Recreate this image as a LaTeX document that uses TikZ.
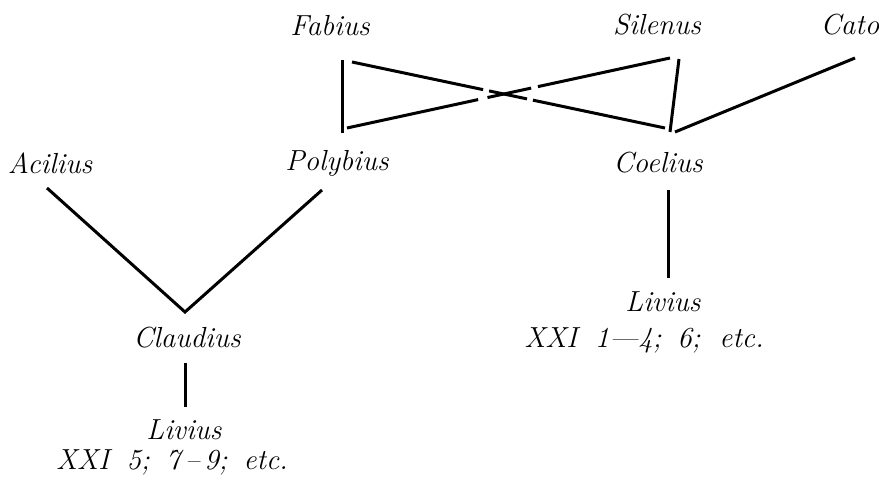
\documentclass[tikz,border=0pt]{standalone}
\begin{document}
\begin{tikzpicture}[x=0.5pt,y=-0.5pt,
  lbl/.style={inner sep=0pt,font=\fontsize{14.5}{16}\selectfont\itshape},
  ln/.style={line width=1.5pt}]
\useasboundingbox (0,0) rectangle (879,482);
% labels
\node[lbl] (fabius) at (330,26) {Fabius};
\node[lbl] (silenus) at (657,25) {Silenus};
\node[lbl] (cato) at (850,25) {Cato};
\node[lbl] (acilius) at (50,163) {Acilius};
\node[lbl] (polybius) at (337,163) {Polybius};
\node[lbl] (coelius) at (658,163) {Coelius};
\node[lbl] (claudius) at (187,338) {Claudius};
\node[lbl] (livA) at (184,430) {Livius};
\node[lbl] (refA) at (172,462) {XXI\hspace{0.6em}5;\hspace{0.55em}7\,--\,9;\hspace{0.55em}etc.};
\node[lbl] (livB) at (663,302) {Livius};
\node[lbl] (refB) at (644,340) {XXI\hspace{0.6em}1---4;\hspace{0.55em}6;\hspace{0.65em}etc.};
% connection points
\coordinate (fab) at (342,60);
\coordinate (pol) at (342,133);
\coordinate (sil) at (679,59);
\coordinate (coe) at (670,132);
\coordinate (coeR) at (675,132);
\coordinate (cat) at (855,58);
\coordinate (acl) at (47,188);
\coordinate (plb) at (322,190);
\coordinate (cla) at (185,312);
\coordinate (claB) at (185,363);
\coordinate (livAT) at (185,407);
\coordinate (coeB) at (668,190);
\coordinate (livBT) at (668,278);
% verticals and Cato
\draw[ln] (fab) -- (pol);
\draw[ln] (sil) -- (coe);
\draw[ln] (coeR) -- (cat);
% crossing diagonals with gaps
\coordinate (fa) at (352,62);
\coordinate (ce) at (665,128);
\coordinate (si) at (670,58);
\coordinate (po) at (347,128);
\path (fa) -- (ce)
  coordinate[pos=0.419] (a1) coordinate[pos=0.438] (a2)
  coordinate[pos=0.559] (a3) coordinate[pos=0.578] (a4);
\path (si) -- (po)
  coordinate[pos=0.409] (b1) coordinate[pos=0.43] (b2)
  coordinate[pos=0.565] (b3) coordinate[pos=0.594] (b4);
\draw[ln] (fa) -- (a1);
\draw[ln] (a2) -- (a3);
\draw[ln] (a4) -- (ce);
\draw[ln] (si) -- (b1);
\draw[ln] (b2) -- (b3);
\draw[ln] (b4) -- (po);
% lower
\draw[ln] (acl) -- (cla) -- (plb);
\draw[ln] (claB) -- (livAT);
\draw[ln] (coeB) -- (livBT);
\end{tikzpicture}
\end{document}
